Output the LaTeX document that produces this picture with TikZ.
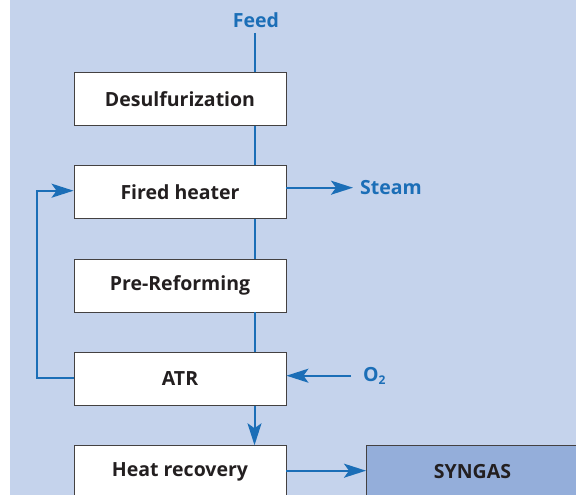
\documentclass[tikz,border=0pt]{standalone}
\usepackage{fontspec}
\setmainfont{Open Sans}
\usetikzlibrary{arrows.meta}
\definecolor{bgblue}{HTML}{C5D3EC}
\definecolor{lineblue}{HTML}{1B6EB7}
\definecolor{synblue}{HTML}{94AEDA}
\definecolor{txtdark}{HTML}{231F20}
\tikzset{
  box/.style={draw=txtdark!85, line width=0.9pt, fill=white, minimum width=212pt, minimum height=52.6pt, inner sep=0pt, font=\fontsize{19.5}{22}\selectfont\bfseries, text=txtdark},
  flow/.style={draw=lineblue, line width=2pt},
  tip/.style={-{Stealth[length=22pt,width=14pt,inset=5pt]}},
  arr/.style={flow, tip},
  lbl/.style={font=\fontsize{19.5}{22}\selectfont\bfseries, text=lineblue, inner sep=0pt}
}
\begin{document}
\begin{tikzpicture}[x=1pt,y=-1pt]
\useasboundingbox (0,0) rectangle (576,495);
\clip (0,0) rectangle (576,495);
\fill[white] (0,0) rectangle (576,495);
\fill[bgblue] (10,0) rectangle (576,495);
\node[box] (des) at (180,99) {Desulfurization};
\node[box] (fh) at (180,192.2) {Fired heater};
\node[box] (pre) at (180,285.7) {Pre-Reforming};
\node[box] (atr) at (180,379) {ATR};
\node[box] (hr) at (180,472) {Heat recovery};
\node[box, fill=synblue, anchor=west] (syn) at (366,472) {SYNGAS};
\node[lbl] (feed) at (256,20) {Feed};
\node[lbl, anchor=west] (steam) at (360,187.7) {Steam};
\node[lbl, anchor=west] (o2) at (363,376) {O\raisebox{-0.25ex}{\fontsize{12}{14}\selectfont 2}};
\coordinate (feedend) at (254.5,33);
\coordinate (steamend) at (353,187.7);
\coordinate (o2start) at (351,375.7);
\coordinate (lbot) at (37,378);
\coordinate (ltop) at (37,190.7);
% main line
\draw[flow] (feedend) -- (feedend |- des.north);
\draw[flow] (feedend |- des.south) -- (feedend |- fh.north);
\draw[flow] (feedend |- fh.south) -- (feedend |- pre.north);
\draw[flow] (feedend |- pre.south) -- (feedend |- atr.north);
\draw[arr] (feedend |- atr.south) -- (feedend |- hr.north);
\draw[arr] (fh.east |- steamend) -- (steamend);
\draw[arr] (o2start) -- (atr.east |- o2start);
\draw[arr] (hr.east |- 0,470.7) -- (syn.west |- 0,470.7);
\draw[arr] (atr.west |- lbot) -- (lbot) -- (ltop) -- (fh.west |- ltop);
\end{tikzpicture}
\end{document}
